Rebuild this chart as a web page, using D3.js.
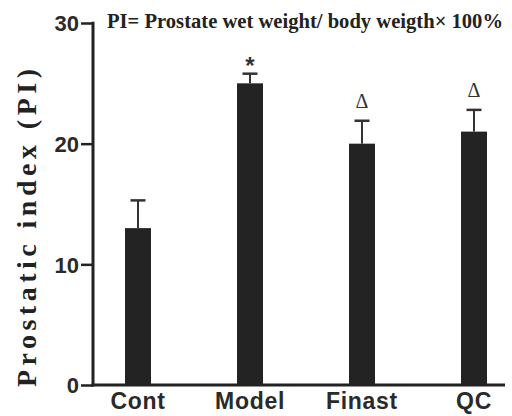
<!DOCTYPE html>
<html><head><meta charset="utf-8">
<script src="https://cdn.jsdelivr.net/npm/d3@7"></script>
<style>body{margin:0;background:#fff}svg{display:block}</style>
</head><body>
<script>
const categories = ["Cont", "Model", "Finast", "QC"];
const values = [13, 25, 20, 21];
const errors = [2.3, 0.8, 1.9, 1.8];
const marks = ["", "*", "Δ", "Δ"];
const yTicks = [0, 10, 20, 30];
const titleText = "PI= Prostate wet weight/ body weigth× 100%";
const yLabel = "Prostatic index (PI)";

const W = 512, H = 416;
const svg = d3.select("body").append("svg").attr("width", W).attr("height", H);

const y = d3.scaleLinear().domain([0, 30]).range([385, 23]);
const x = d3.scaleBand().domain(categories).range([125, 487]).paddingInner(0.768).paddingOuter(0);

// y axis
const yAxis = svg.append("g").attr("transform", "translate(93,0)")
  .call(d3.axisLeft(y).tickValues(yTicks).tickSize(12).tickPadding(2).tickFormat(d3.format("d")));
yAxis.select(".domain").remove();
yAxis.selectAll(".tick line").attr("stroke", "#222").attr("stroke-width", 2.5);
yAxis.selectAll(".tick text").attr("fill", "#2a2a2a")
  .style("font-family", "Liberation Sans, Arial, sans-serif").style("font-weight", "bold").style("font-size", "22px")
  .attr("dy", "0.35em");
svg.append("line").attr("x1", 93).attr("x2", 93).attr("y1", y(30) - 1.2).attr("y2", y(0) + 1.5)
  .attr("stroke", "#222").attr("stroke-width", 3);

// bars
svg.selectAll("rect.bar").data(categories).enter().append("rect")
  .attr("x", d => x(d)).attr("width", x.bandwidth())
  .attr("y", (d, i) => y(values[i])).attr("height", (d, i) => y(0) - y(values[i]))
  .attr("fill", "#232323");

// error bars
const eg = svg.selectAll("g.err").data(categories).enter().append("g");
eg.append("line")
  .attr("x1", d => x(d) + x.bandwidth() / 2).attr("x2", d => x(d) + x.bandwidth() / 2)
  .attr("y1", (d, i) => y(values[i])).attr("y2", (d, i) => y(values[i] + errors[i]))
  .attr("stroke", "#333").attr("stroke-width", 2);
eg.append("line")
  .attr("x1", d => x(d) + x.bandwidth() / 2 - 7.5).attr("x2", d => x(d) + x.bandwidth() / 2 + 7.5)
  .attr("y1", (d, i) => y(values[i] + errors[i])).attr("y2", (d, i) => y(values[i] + errors[i]))
  .attr("stroke", "#333").attr("stroke-width", 2.5);

// significance marks
svg.selectAll("text.mark").data(categories).enter().append("text")
  .attr("x", d => x(d) + x.bandwidth() / 2)
  .attr("y", (d, i) => y(values[i] + errors[i]) - (marks[i] === "*" ? 0 : 13))
  .attr("text-anchor", "middle")
  .attr("fill", "#333")
  .style("font-family", (d, i) => marks[i] === "*" ? "Liberation Sans, Arial, sans-serif" : "Liberation Serif, serif")
  .style("font-weight", (d, i) => marks[i] === "*" ? "bold" : "normal")
  .style("font-size", (d, i) => marks[i] === "*" ? "24px" : "20px")
  .text((d, i) => marks[i]);

// x axis
const xAxis = svg.append("g").attr("transform", "translate(0,385)")
  .call(d3.axisBottom(x).tickSize(0).tickPadding(8));
xAxis.select(".domain").remove();
xAxis.selectAll(".tick text").attr("fill", "#2a2a2a")
  .style("font-family", "Liberation Sans, Arial, sans-serif").style("font-weight", "bold").style("font-size", "23px")
  .style("letter-spacing", "0.7px");
svg.append("line").attr("x1", 91.5).attr("x2", 505).attr("y1", 385).attr("y2", 385)
  .attr("stroke", "#222").attr("stroke-width", 3);

// title
svg.append("text").attr("x", 107).attr("y", 28)
  .attr("textLength", 396).attr("lengthAdjust", "spacingAndGlyphs")
  .attr("fill", "#222")
  .style("font-family", "Liberation Serif, Times New Roman, serif").style("font-weight", "bold").style("font-size", "20px")
  .text(titleText);

// y label
svg.append("text").attr("transform", "translate(36,228) rotate(-90)")
  .attr("text-anchor", "middle")
  .attr("textLength", 318).attr("lengthAdjust", "spacing")
  .attr("fill", "#222")
  .style("font-family", "Liberation Serif, Times New Roman, serif").style("font-weight", "bold").style("font-size", "28px")
  .text(yLabel);
</script>
</body></html>
